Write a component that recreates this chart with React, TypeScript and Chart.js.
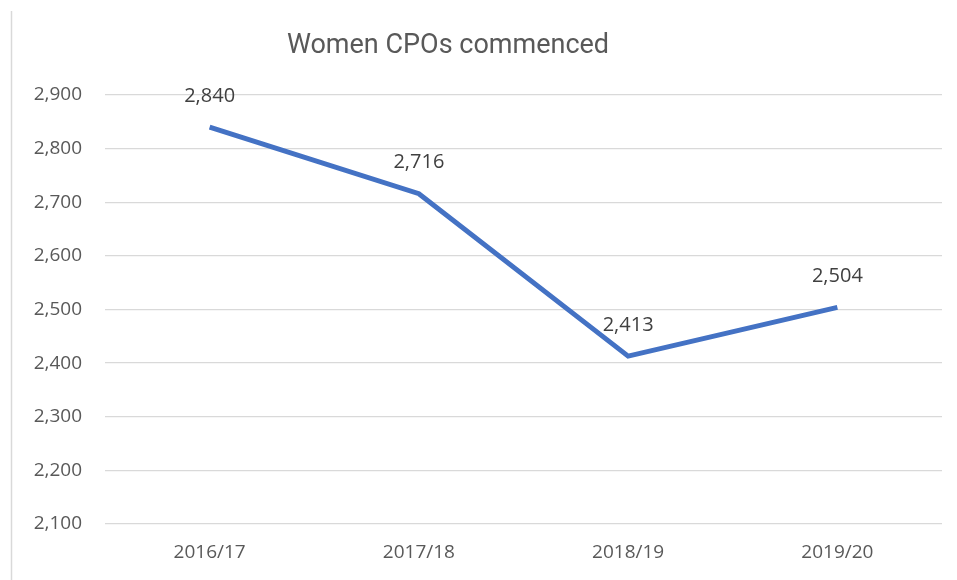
import React, { useEffect, useRef } from "react";
import { Chart, registerables } from "chart.js";

Chart.register(...registerables);

const categories = ["2016/17", "2017/18", "2018/19", "2019/20"];
const values = [2840, 2716, 2413, 2504];
const yMin = 2100;
const yMax = 2900;
const yStep = 100;
const titleText = "Women CPOs commenced";

const fmt = (v: number) => v.toLocaleString("en-US");

const decorPlugin = {
  id: "decor",
  afterDraw(chart: any) {
    const ctx = chart.ctx;
    ctx.save();
    // left border
    ctx.strokeStyle = "#d9d9d9";
    ctx.lineWidth = 1.5;
    ctx.beginPath();
    ctx.moveTo(11.5, 11);
    ctx.lineTo(11.5, 580);
    ctx.stroke();
    // title
    ctx.fillStyle = "#595959";
    ctx.font = "27px Roboto";
    ctx.textAlign = "center";
    ctx.textBaseline = "middle";
    ctx.fillText(titleText, 448, 46);
    // data labels
    const meta = chart.getDatasetMeta(0);
    ctx.font = "20px 'Open Sans'";
    ctx.fillStyle = "#404040";
    meta.data.forEach((pt: any, i: number) => {
      ctx.fillText(fmt(values[i]), pt.x, pt.y - 31);
    });
    ctx.restore();
  },
};

export default function App() {
  const ref = useRef<HTMLCanvasElement>(null);
  useEffect(() => {
    if (!ref.current) return;
    const chart = new Chart(ref.current, {
      type: "line",
      data: {
        labels: categories,
        datasets: [
          {
            data: values,
            borderColor: "#4472C4",
            borderWidth: 5,
            pointRadius: 0,
            tension: 0,
            fill: false,
          },
        ],
      },
      options: {
        animation: false,
        responsive: false,
        layout: { padding: { top: 95, right: 15, left: 0, bottom: 0 } },
        plugins: { legend: { display: false }, title: { display: false }, tooltip: { enabled: false } },
        scales: {
          x: {
            offset: true,
            grid: { display: false, drawTicks: false },
            border: { display: false },
            ticks: { color: "#595959", font: { family: "'Open Sans'", size: 19 }, padding: 17 },
            afterFit(scale: any) {
              scale.height = 56;
            },
          },
          y: {
            min: yMin,
            max: yMax,
            grid: { color: "#d9d9d9", lineWidth: 1.3, drawTicks: false },
            border: { display: false },
            ticks: {
              stepSize: yStep,
              color: "#595959",
              font: { family: "'Open Sans'", size: 19 },
              padding: 23,
              callback: (v: any) => fmt(Number(v)),
            },
            afterFit(scale: any) {
              scale.width = 105;
            },
          },
        },
      },
      plugins: [decorPlugin],
    });
    return () => chart.destroy();
  }, []);
  return (
    <div style={{ position: "fixed", left: 0, top: 0, width: 957, height: 580, background: "#fff" }}>
      <canvas ref={ref} width={957} height={580} style={{ display: "block" }} />
    </div>
  );
}
